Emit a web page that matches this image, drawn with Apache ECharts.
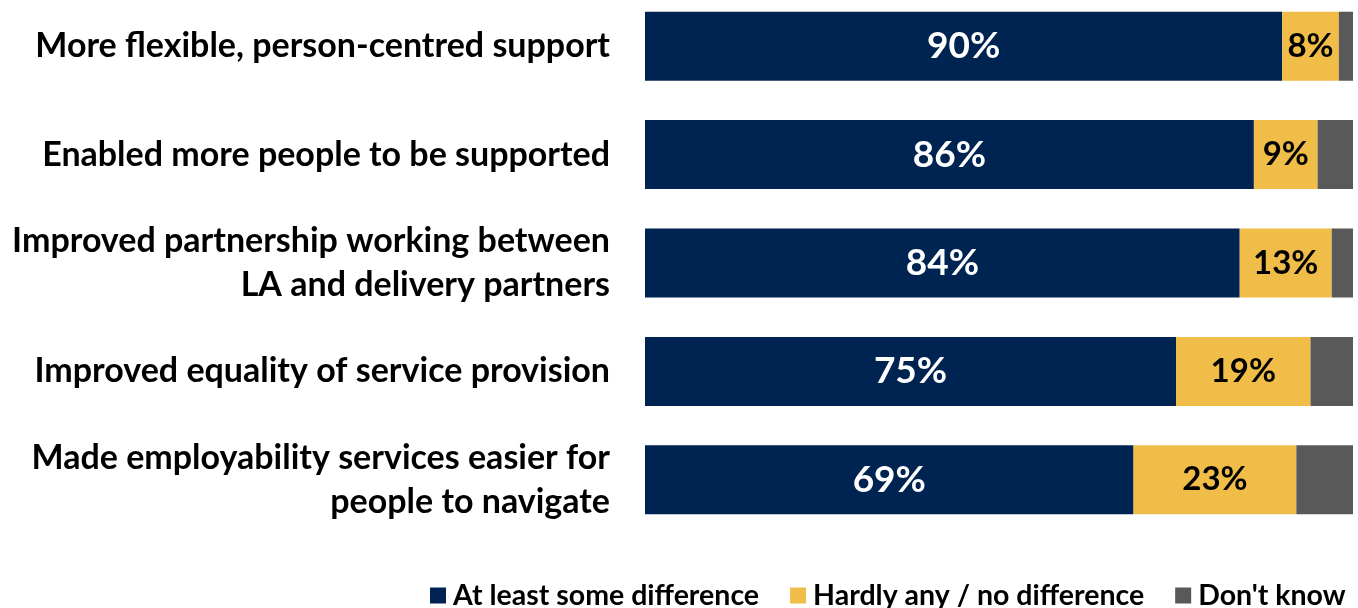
<!DOCTYPE html>
<html>
<head>
<meta charset="utf-8">
<style>
  html, body { margin: 0; padding: 0; background: #ffffff; }
  #chart { width: 1358px; height: 608px; }
</style>
<script src="https://cdn.jsdelivr.net/npm/echarts@6/dist/echarts.min.js"></script>
</head>
<body>
<div id="chart"></div>
<script>
// Survey statements, top to bottom
const categories = [
  'More flexible, person-centred support',
  'Enabled more people to be supported',
  'Improved partnership working between\nLA and delivery partners',
  'Improved equality of service provision',
  'Made employability services easier for\npeople to navigate'
];

// Share of respondents (%)
const someDifference = [90, 86, 84, 75, 69];
const noDifference   = [8, 9, 13, 19, 23];
const dontKnow       = [2, 5, 3, 6, 8];

const seriesNames = ['At least some difference', 'Hardly any / no difference', "Don't know"];

const FONT = 'Lato, "Open Sans", sans-serif';
const NAVY = '#002451';
const GOLD = '#F0BD48';
const GREY = '#595959';

const chart = echarts.init(document.getElementById('chart'), null, { renderer: 'canvas' });

function barSeries(name, data, color, labelColor, labelSize) {
  return {
    name: name,
    type: 'bar',
    stack: 'total',
    data: data,
    barWidth: 69,
    itemStyle: { color: color },
    label: labelColor ? {
      show: true,
      position: 'inside',
      formatter: '{c}%',
      color: labelColor,
      fontFamily: FONT,
      fontWeight: 'bold',
      fontSize: labelSize
    } : { show: false },
    emphasis: { disabled: true }
  };
}

chart.setOption({
  animation: false,
  backgroundColor: '#ffffff',
  grid: {
    left: 645, right: 5, top: -8, height: 542,
    containLabel: false,
    outerBoundsMode: 'none'
  },
  xAxis: {
    type: 'value',
    min: 0,
    max: 100,
    show: false
  },
  yAxis: {
    type: 'category',
    data: categories,
    inverse: true,
    axisLine: { show: false },
    axisTick: { show: false },
    axisLabel: {
      margin: 35,
      color: '#000000',
      fontFamily: FONT,
      fontWeight: 'bold',
      fontSize: 34,
      lineHeight: 44,
      align: 'right'
    }
  },
  legend: {
    top: 576,
    left: 425,
    itemWidth: 16,
    itemHeight: 16,
    itemGap: 31,
    icon: 'rect',
    textStyle: {
      color: '#000000',
      fontFamily: FONT,
      fontWeight: 'bold',
      fontSize: 28.5,
      padding: [0, 0, 0, 2]
    },
    data: seriesNames
  },
  series: [
    barSeries(seriesNames[0], someDifference, NAVY, '#ffffff', 37),
    barSeries(seriesNames[1], noDifference, GOLD, '#000000', 33),
    barSeries(seriesNames[2], dontKnow, GREY, null, 0)
  ]
});
</script>
</body>
</html>
